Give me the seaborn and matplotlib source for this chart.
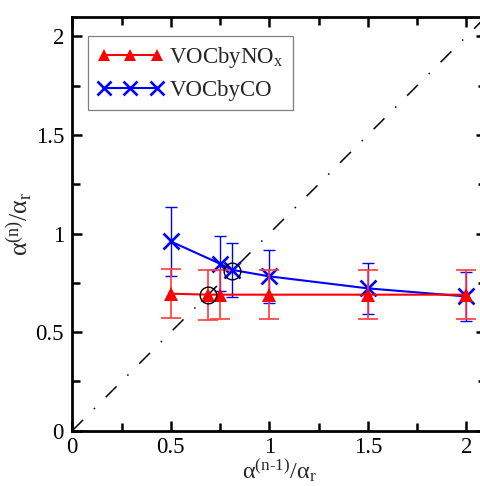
import numpy as np
import pandas as pd
import matplotlib
matplotlib.use("Agg")
import matplotlib.pyplot as plt
import seaborn as sns

# Ratio of previous-iteration alpha to the reference alpha
x_nox = [0.5, 0.69, 0.75, 1.0, 1.5, 2.0]
y_nox = [0.695, 0.69, 0.69, 0.69, 0.69, 0.69]
err_nox = [0.125, 0.127, 0.125, 0.125, 0.125, 0.125]

x_co = [0.5, 0.75, 0.81, 1.0, 1.5, 2.0]
y_co = [0.96, 0.847, 0.816, 0.783, 0.722, 0.681]
err_co = [0.174, 0.14, 0.138, 0.135, 0.13, 0.123]

# Fixed points where the curves cross the identity line
fixed_x = [0.69, 0.81]
fixed_y = [0.69, 0.81]

xticks = [0, 0.5, 1, 1.5, 2]
xtick_labels = ["0", "0.5", "1", "1.5", "2"]
yticks = [0, 0.5, 1, 1.5, 2]
ytick_labels = ["0", "0.5", "1", "1.5", "2"]

sns.set_theme(style="ticks")
plt.rcParams["font.family"] = ["Liberation Serif", "DejaVu Serif"]
plt.rcParams["mathtext.fontset"] = "custom"
plt.rcParams["mathtext.rm"] = "Liberation Serif"
plt.rcParams["mathtext.it"] = "Liberation Serif:italic"

fig = plt.figure(figsize=(4.8, 4.86), dpi=100)
ax = fig.add_axes([0.1506, 0.1138, 0.862, 0.8518])

df_nox = pd.DataFrame({"x": x_nox, "y": y_nox})
df_co = pd.DataFrame({"x": x_co, "y": y_co})

# identity line
diag = np.array([0.0, 2.2])
ax.plot(diag, diag, color="black", lw=1.1, ls=(0, (10, 10, 1, 10)), zorder=1)

ax.errorbar(x_co, y_co, yerr=err_co, fmt="none", ecolor="blue",
            elinewidth=1.0, capsize=4, capthick=1.0, zorder=2)
sns.lineplot(data=df_co, x="x", y="y", ax=ax, color="blue", lw=1.5,
             marker="x", markersize=11.5, markeredgewidth=1.9,
             markeredgecolor="blue", label="VOCbyCO", zorder=3)

ax.errorbar(x_nox, y_nox, yerr=err_nox, fmt="none", ecolor="#ff3b3b",
            elinewidth=1.2, capsize=7.5, capthick=1.2, zorder=4)
sns.lineplot(data=df_nox, x="x", y="y", ax=ax, color="red", lw=1.5,
             marker="^", markersize=10, markeredgewidth=0,
             label=r"VOCbyNO$_{\mathrm{x}}$", zorder=5)

ax.plot(fixed_x, fixed_y, ls="none", marker="o", markersize=12,
        markerfacecolor="none", markeredgecolor="black",
        markeredgewidth=1.0, zorder=6)

ax.set_xlim(0, 2.1)
ax.set_ylim(0, 2.1)
ax.set_xticks(xticks)
ax.set_xticklabels(xtick_labels)
ax.set_yticks(yticks)
ax.set_yticklabels(ytick_labels)
ax.set_xticks(np.arange(0.25, 2.1, 0.5), minor=True)
ax.set_yticks(np.arange(0.25, 2.1, 0.5), minor=True)
ax.tick_params(which="both", direction="in", top=True, right=True,
               labelsize=16.5, width=1.8, colors="black", pad=6)
ax.tick_params(axis="x", which="both", pad=4.5)
ax.tick_params(which="major", length=7)
ax.tick_params(which="minor", length=5.5)
for s in ax.spines.values():
    s.set_linewidth(2.0)
    s.set_color("black")

ax.set_xlabel(r"$\mathrm{α^{(n\text{-}1)}/α_r}$", fontsize=17.5, labelpad=-0.5)
ax.set_ylabel(r"$\mathrm{α^{(n)}/α_r}$", fontsize=18.5, labelpad=1)

handles, labels = ax.get_legend_handles_labels()
order = [labels.index(r"VOCbyNO$_{\mathrm{x}}$"), labels.index("VOCbyCO")]
leg = ax.legend([handles[i] for i in order], [labels[i] for i in order],
                loc="upper left", bbox_to_anchor=(0.038, 0.953),
                borderaxespad=0, fontsize=16.5, numpoints=3,
                handlelength=2.9, handletextpad=0.25, borderpad=0.4,
                labelspacing=0.4, fancybox=False, edgecolor="gray",
                framealpha=1, markerscale=0.85)
leg.get_frame().set_linewidth(0.9)

fig.savefig("out.png", dpi=100)
